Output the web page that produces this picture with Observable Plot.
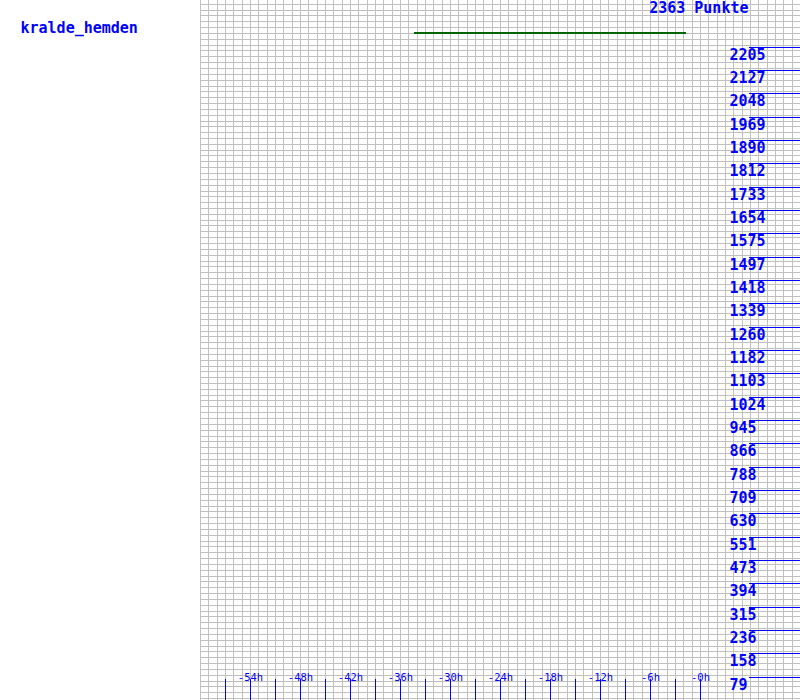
<!DOCTYPE html>
<html><head><meta charset="utf-8">
<script src="https://cdn.jsdelivr.net/npm/d3@7"></script>
<script src="https://cdn.jsdelivr.net/npm/@observablehq/plot@0.6"></script>
<style>
html,body{margin:0;padding:0;background:#fff;}
#chart{position:relative;width:800px;height:700px;overflow:hidden;}
</style></head><body><div id="chart"></div>
<script>
const playerName = "kralde_hemden";
const maxPoints = 2363;
const unitLabel = "Punkte";
const yTickValues = [79,158,236,315,394,473,551,630,709,788,866,945,1024,1103,1182,1260,1339,1418,1497,1575,1654,1733,1812,1890,1969,2048,2127,2205];
const xTickHours = [-57,-54,-51,-48,-45,-42,-39,-36,-33,-30,-27,-24,-21,-18,-15,-12,-9,-6,-3,0];
const xLabelHours = [-54,-48,-42,-36,-30,-24,-18,-12,-6,0];
const xLabelTexts = ["-54h","-48h","-42h","-36h","-30h","-24h","-18h","-12h","-6h","-0h"];
const scoreHours = [-34.3, -1.8];
const scorePoints = [2252, 2252];

const xDomain = [-60, 12];
const yDomain = [0, maxPoints];
const gridHours = d3.range(xDomain[0], xDomain[1] + 1);
const gridVals = d3.range(0, 120).map(k => k * maxPoints / 120);
const score = scoreHours.map((h, i) => ({h, p: scorePoints[i]}));

const BLUE = "#0000ff", GRID = "#c0c0c0", GREEN = "#006400";
const FONT = "DejaVu Sans Mono";
const crisp = {shapeRendering: "crispEdges", strokeOpacity: 1};

const chart = Plot.plot({
  width: 800, height: 700,
  marginLeft: 200, marginRight: 0, marginTop: 0, marginBottom: 0,
  style: {background: "#fff", fontFamily: FONT},
  x: {domain: xDomain, round: true, axis: null},
  y: {domain: yDomain, round: true, axis: null},
  marks: [
    Plot.ruleX(gridHours, {x: d => d, stroke: GRID, ...crisp}),
    Plot.ruleY(gridVals, {y: d => d, stroke: GRID, dy: -2, ...crisp}),
    Plot.ruleY(yTickValues, {y: d => d, stroke: BLUE, insetLeft: 549, ...crisp}),
    Plot.text(yTickValues, {y: d => d, text: d => String(d), frameAnchor: "right", textAnchor: "start",
      dx: -71, lineAnchor: "top", dy: 2, fill: BLUE, fontSize: 15, fontWeight: "bold", fontFamily: FONT}),
    Plot.ruleX(xTickHours, {x: d => d, stroke: BLUE, insetTop: 679, ...crisp}),
    Plot.text(xLabelHours, {x: d => d, text: (d, i) => xLabelTexts[i], frameAnchor: "bottom",
      lineAnchor: "top", dy: -27, fill: BLUE, fontSize: 10.5, fontFamily: FONT}),
    Plot.line(score, {x: "h", y: "p", stroke: GREEN, strokeWidth: 2, dy: -0.5, ...crisp}),
    Plot.text([playerName], {frameAnchor: "top-left", dx: -180, lineAnchor: "top", dy: 22,
      textAnchor: "start", fill: BLUE, fontSize: 15, fontWeight: "bold", fontFamily: FONT}),
    Plot.text([`${maxPoints} ${unitLabel}`], {frameAnchor: "top-right", dx: -52, lineAnchor: "top", dy: 2,
      textAnchor: "end", fill: BLUE, fontSize: 15, fontWeight: "bold", fontFamily: FONT})
  ]
});
document.getElementById("chart").appendChild(chart);
</script></body></html>
